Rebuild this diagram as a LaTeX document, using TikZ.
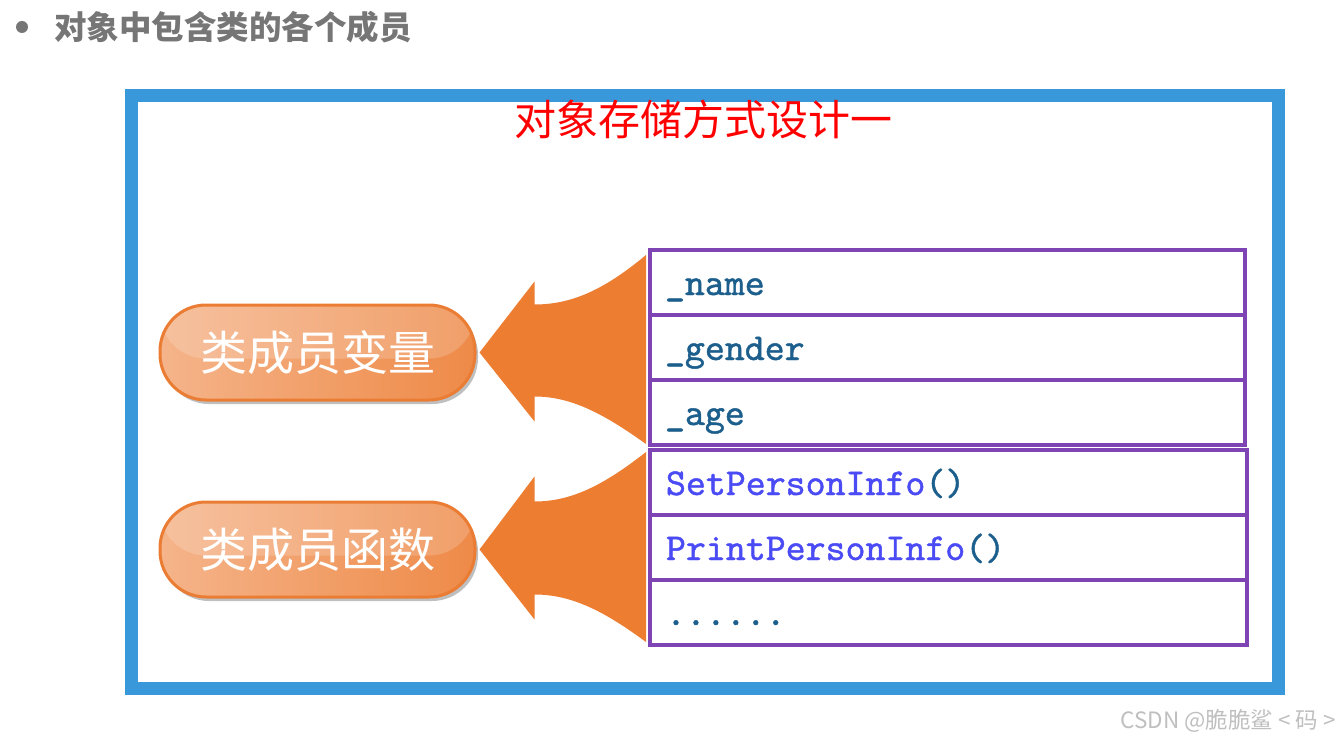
\documentclass[tikz,border=0pt]{standalone}
\usepackage{fontspec}
\newfontfamily\cjk{Noto Sans CJK SC}
\newfontfamily\codefont{lmmono10-regular.otf}[FakeBold=1.2]
\usetikzlibrary{calc,shadows}
\definecolor{frameblue}{HTML}{3898DA}
\definecolor{arrorange}{HTML}{ED7D31}
\definecolor{pilldark}{HTML}{EE8A48}
\definecolor{pilllight}{HTML}{F5B48A}
\definecolor{pillborder}{HTML}{EA7C33}
\definecolor{rowpurple}{HTML}{7E44B4}
\definecolor{vartext}{HTML}{1D5F8C}
\definecolor{functext}{HTML}{4B4BF5}
\definecolor{titlegray}{HTML}{767676}
\tikzset{
  pill/.style={rectangle, rounded corners=46pt, minimum width=315pt, minimum height=95pt,
    left color=pilllight, right color=pilldark, draw=pillborder, line width=3pt,
    drop shadow={shadow xshift=3pt, shadow yshift=-4pt, fill=black, opacity=0.25},
    text=white, font=\cjk\fontsize{47}{47}\selectfont, inner sep=0pt,
    path picture={\fill[white,opacity=0.18] ($(path picture bounding box.north west)$) rectangle ($(path picture bounding box.east)+(0,-6pt)$);}},
  row/.style={rectangle, draw=rowpurple, line width=4pt, minimum width=595pt,
    inner xsep=15pt, inner ysep=0pt, outer sep=0pt, text height=45pt, text depth=20pt,
    anchor=north west, font=\codefont\fontsize{38}{38}\selectfont},
  fan/.style={fill=arrorange, draw=none},
}
\newcommand{\rowtext}[1]{\makebox[565pt][l]{#1}}
\begin{document}
\begin{tikzpicture}[x=1pt,y=-1pt]
\useasboundingbox (0,0) rectangle (1343,743);
% heading
\fill[titlegray] (22,27) circle (6);
\node[anchor=west, text=titlegray, font=\cjk\bfseries\fontsize{32.5}{32.5}\selectfont, inner sep=0pt] (head) at (54,27) {对象中包含类的各个成员};
% frame
\draw[frameblue, line width=13pt] (131.5,95.5) rectangle (1278.5,688.5);
\node[text=red, font=\cjk\fontsize{42}{42}\selectfont, inner sep=0pt] (title) at (703,119) {对象存储方式设计一};
% pills
\node[pill] (var) at (317.5,352.5) {类成员变量};
\node[pill] (fun) at (317.5,549.5) {类成员函数};
% table rows
\node[row] (r1) at (650,250) {\rowtext{\textcolor{vartext}{\_name}}};
\node[row] (r2) at (r1.south west) {\rowtext{\textcolor{vartext}{\_gender}}};
\node[row] (r3) at (r2.south west) {\rowtext{\textcolor{vartext}{\_age}}};
\node[row, minimum width=597pt] (r4) at ($(r3.south west)+(0,5)$) {\rowtext{\textcolor{functext}{SetPersonInfo}\textcolor{vartext}{()}}};
\node[row, minimum width=597pt] (r5) at (r4.south west) {\rowtext{\textcolor{functext}{PrintPersonInfo}\textcolor{vartext}{()}}};
\node[row, minimum width=597pt] (r6) at (r5.south west) {\rowtext{\textcolor{vartext}{......}}};
% fan arrows
\fill[fan] ($(var.east)+(3,0)$) -- ++(55,-71) -- ++(0,23)
  .. controls ++(37,0) and ($(r1.north west)+(-46,40)$) .. ($(r1.north west)+(-4,5)$)
  -- ($(r3.south west)+(-4,-1)$)
  .. controls ($(r3.south west)+(-46,-31)$) and ($(var.east)+(95,44)$) .. ($(var.east)+(58,44)$)
  -- ++(0,25) -- cycle;
\fill[fan] ($(fun.east)+(3,0)$) -- ++(55,-73) -- ++(0,25)
  .. controls ++(37,0) and ($(r4.north west)+(-46,35)$) .. ($(r4.north west)+(-4,2)$)
  -- ($(r6.south west)+(-4,-3)$)
  .. controls ($(r6.south west)+(-46,-34)$) and ($(fun.east)+(95,45)$) .. ($(fun.east)+(58,45)$)
  -- ++(0,25) -- cycle;
% redraw row outlines on top
\draw[rowpurple, line width=4pt] (r1.north west) rectangle (r3.south east);
\draw[rowpurple, line width=4pt] (r4.north west) rectangle (r6.south east);
% watermark
\node[anchor=east, text=black!25, font=\cjk\fontsize{22.5}{22.5}\selectfont, inner sep=0pt] (wm) at (1336,721) {CSDN @脆脆鲨 < 码 >};
\end{tikzpicture}
\end{document}
